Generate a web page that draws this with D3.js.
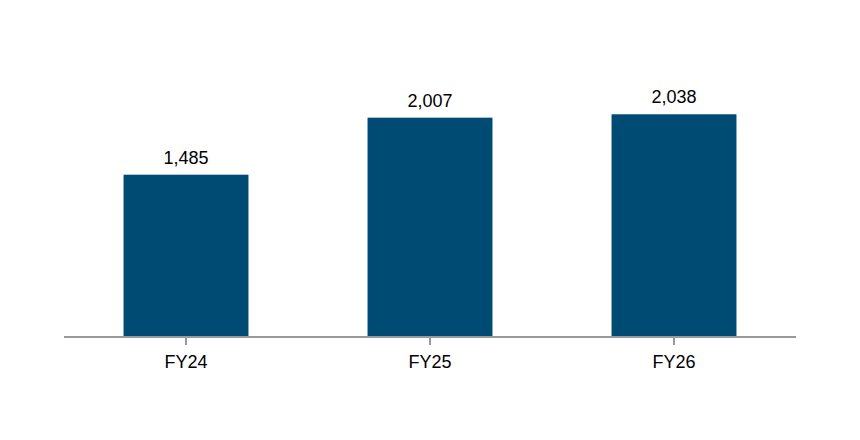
<!DOCTYPE html>
<html><head><meta charset="utf-8">
<script src="https://cdn.jsdelivr.net/npm/d3@7"></script>
<style>body{margin:0;background:#fff}svg{display:block}</style>
</head><body>
<script>
const categories = ["FY24", "FY25", "FY26"];
const values = [1485, 2007, 2038];

const W = 860, H = 440;
const svg = d3.select("body").append("svg").attr("width", W).attr("height", H);
const x = d3.scaleBand().domain(categories).range([64, 796]).paddingInner(0.488).paddingOuter(0.244);
const y = d3.scaleLinear().domain([0, 2800]).range([337, 31]);

svg.selectAll("rect.bar").data(values).join("rect")
  .attr("class", "bar")
  .attr("x", (d, i) => x(categories[i]))
  .attr("width", x.bandwidth())
  .attr("y", d => y(d))
  .attr("height", d => y(0) - y(d))
  .attr("fill", "#004b73");

svg.selectAll("text.val").data(values).join("text")
  .attr("class", "val")
  .attr("x", (d, i) => x(categories[i]) + x.bandwidth() / 2)
  .attr("y", d => y(d) - 11)
  .attr("text-anchor", "middle")
  .attr("font-family", "Liberation Sans, Arial, sans-serif")
  .attr("font-size", 18).attr("fill", "#000")
  .text(d => d3.format(",")(d));

const ax = svg.append("g").attr("transform", `translate(0,${y(0)})`)
  .call(d3.axisBottom(x).tickSize(8).tickPadding(10));
ax.select(".domain").attr("stroke", "#999").attr("stroke-width", 2).attr("d", "M64,0H796");
ax.selectAll(".tick line").attr("stroke", "#999").attr("stroke-width", 2);
ax.selectAll(".tick text").attr("font-family", "Liberation Sans, Arial, sans-serif")
  .attr("font-size", 18).attr("fill", "#000");
</script>
</body></html>
